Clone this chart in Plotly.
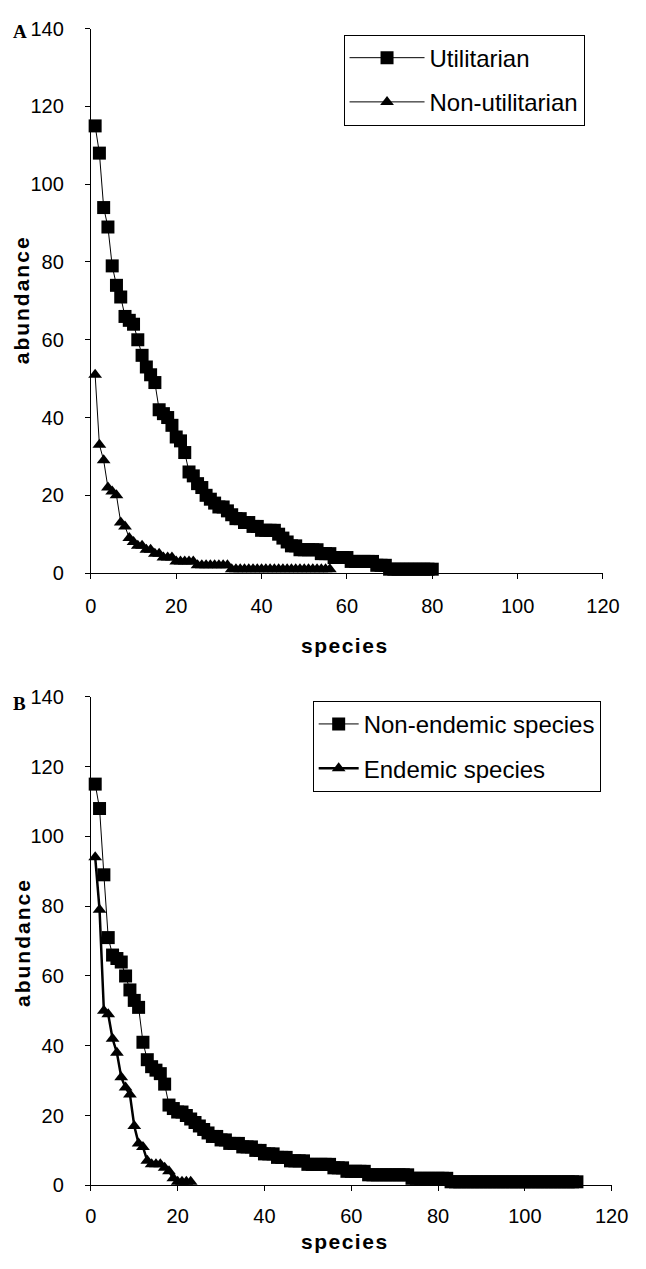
import plotly.graph_objects as go

# ---- data ----
utilitarian = [115, 108, 94, 89, 79, 74, 71, 66, 65, 64,
               60, 56, 53, 51, 49, 42, 41, 40, 38, 35,
               34, 31, 26, 25, 23, 22, 20, 19, 18, 17,
               17, 16, 15, 14, 14, 13, 13, 12, 12, 11,
               11, 11, 11, 10, 9, 8, 7, 7, 6, 6,
               6, 6, 6, 5, 5, 5, 4, 4, 4, 4,
               3, 3, 3, 3, 3, 3, 2, 2, 2, 1,
               1, 1, 1, 1, 1, 1, 1, 1, 1, 1]
non_utilitarian = [51, 33, 29, 22, 21, 20, 13, 12, 9, 8,
                   7, 7, 6, 6, 5, 5, 4, 4, 4, 3,
                   3, 3, 3, 3, 2, 2, 2, 2, 2, 2,
                   2, 2] + [1] * 24
non_endemic = [115, 108, 89, 71, 66, 65, 64, 60, 56, 53,
               51, 41, 36, 34, 33, 32, 29, 23, 22, 21,
               21, 20, 19, 18, 17, 16, 15, 14, 14, 13,
               13, 12, 12, 12, 11, 11, 11, 10, 10, 9,
               9, 9, 8, 8, 8, 7, 7, 7, 7, 6,
               6, 6, 6, 6, 6, 5, 5, 5, 4, 4,
               4, 4, 4] + [3] * 10 + [2] * 9 + [1] * 30
endemic = [94, 79, 50, 49, 42, 38, 31, 28, 26, 17,
           12, 11, 7, 6, 6, 6, 5, 4, 2, 1,
           1, 1, 1]

x_ticks = [0, 20, 40, 60, 80, 100, 120]
y_ticks = [0, 20, 40, 60, 80, 100, 120, 140]

W, H = 646, 1269
def px(x): return x / W
def py(y): return 1 - y / H

FONT = "Liberation Sans, Arial, sans-serif"

fig = go.Figure()

def rank(vals):
    return list(range(1, len(vals) + 1))

fig.add_trace(go.Scatter(x=rank(utilitarian), y=utilitarian, mode="lines+markers",
                         name="Utilitarian", xaxis="x", yaxis="y", legend="legend",
                         legendgroup="u",
                         line=dict(color="black", width=1),
                         marker=dict(symbol="square", size=13, color="black"),
                         cliponaxis=False))
fig.add_trace(go.Scatter(x=rank(non_utilitarian), y=non_utilitarian, mode="lines+markers",
                         name="Non-utilitarian", xaxis="x", yaxis="y", legend="legend",
                         legendgroup="n",
                         line=dict(color="black", width=1),
                         marker=dict(symbol="triangle-up", size=12, color="black"),
                         cliponaxis=False))
fig.add_trace(go.Scatter(x=rank(non_endemic), y=non_endemic, mode="lines+markers",
                         name="Non-endemic species", xaxis="x2", yaxis="y2", legend="legend2",
                         legendgroup="ne",
                         line=dict(color="black", width=1),
                         marker=dict(symbol="square", size=13, color="black"),
                         cliponaxis=False))
fig.add_trace(go.Scatter(x=rank(endemic), y=endemic, mode="lines+markers",
                         name="Endemic species", xaxis="x2", yaxis="y2", legend="legend2",
                         legendgroup="e",
                         line=dict(color="black", width=2.5),
                         marker=dict(symbol="triangle-up", size=12, color="black"),
                         cliponaxis=False))

axis_common = dict(showline=True, linecolor="black", linewidth=1, showgrid=False,
                   zeroline=False, ticks="outside", ticklen=5, tickcolor="black",
                   tickwidth=1, tickfont=dict(family=FONT, size=20, color="black"))

fig.update_layout(
    width=W, height=H, margin=dict(l=0, r=0, t=0, b=0),
    paper_bgcolor="white", plot_bgcolor="white",
    xaxis=dict(domain=[px(88), px(619)], range=[0, 120], tickvals=x_ticks,
               anchor="y", ticklabelstandoff=10, **axis_common),
    yaxis=dict(domain=[py(572), py(18)], range=[0, 140], tickvals=y_ticks,
               anchor="x", ticklabelstandoff=17, **axis_common),
    xaxis2=dict(domain=[px(88), px(628)], range=[0, 120], tickvals=x_ticks,
                anchor="y2", ticklabelstandoff=8, **axis_common),
    yaxis2=dict(domain=[py(1195), py(698)], range=[0, 140], tickvals=y_ticks,
                anchor="x2", ticklabelstandoff=17, **axis_common),
    legend=dict(x=px(350), y=py(24), xanchor="left", yanchor="top",
                bordercolor="black", borderwidth=1, bgcolor="white",
                traceorder="grouped", tracegroupgap=10, itemwidth=75,
                font=dict(family=FONT, size=24, color="black")),
    legend2=dict(x=px(318), y=py(702), xanchor="left", yanchor="top",
                 bordercolor="black", borderwidth=1, bgcolor="white",
                 traceorder="grouped", tracegroupgap=10, itemwidth=40,
                 font=dict(family=FONT, size=24, color="black")),
    showlegend=True,
)

title_font = dict(family=FONT, size=21, color="black")
annotations = [
    dict(text="<b><span style='letter-spacing:2px'>abundance</span></b>", x=px(17), y=py(294),
         textangle=-90, font=title_font),
    dict(text="<b><span style='letter-spacing:2px'>abundance</span></b>", x=px(17), y=py(948),
         textangle=-90, font=title_font),
    dict(text="<b><span style='letter-spacing:1.5px'>species</span></b>", x=px(352), y=py(646),
         font=title_font),
    dict(text="<b><span style='letter-spacing:1.5px'>species</span></b>", x=px(352), y=py(1252),
         font=title_font),
    dict(text="<b>A</b>", x=px(14), y=py(21),
         font=dict(family="Liberation Serif, Times New Roman, serif", size=19, color="black")),
    dict(text="<b>B</b>", x=px(14), y=py(705),
         font=dict(family="Liberation Serif, Times New Roman, serif", size=19, color="black")),
]
for a in annotations:
    a.update(xref="paper", yref="paper", showarrow=False, xanchor="center", yanchor="middle")
fig.update_layout(annotations=annotations)

fig.write_html("out.html")
